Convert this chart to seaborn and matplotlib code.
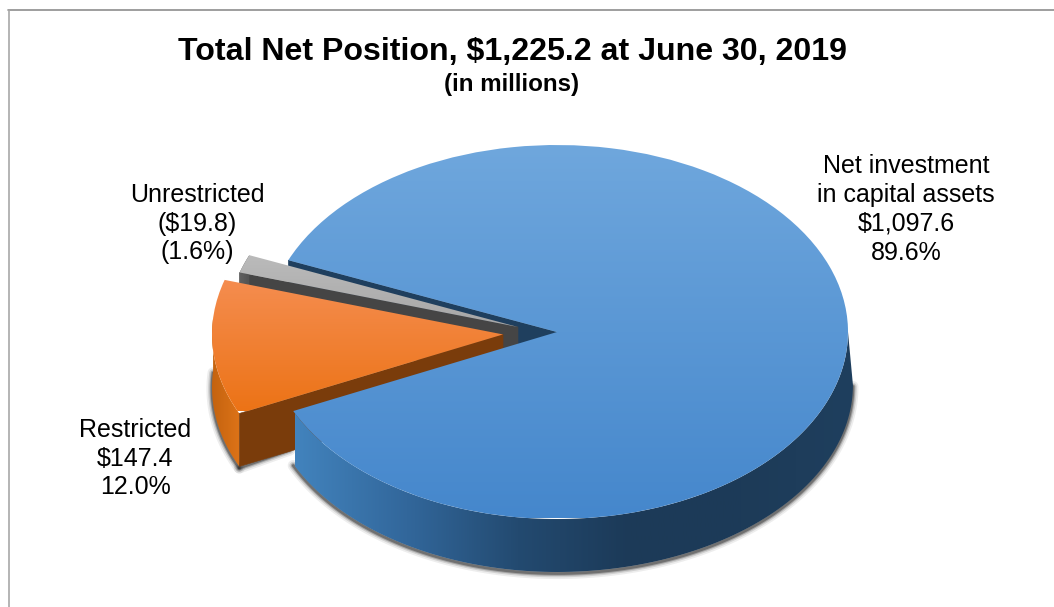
# Goal: 3D looking pie of total net position at June 30, 2019

import numpy as np
import seaborn as sns
import matplotlib
matplotlib.use("Agg")
import matplotlib.pyplot as plt
from matplotlib.lines import Line2D
from matplotlib.patches import Polygon

# Data (in millions)
categories = ["Net investment\nin capital assets", "Unrestricted", "Restricted"]
amounts = [1097.6, 19.8, 147.4]
amount_labels = ["\\$1,097.6", "(\\$19.8)", "\\$147.4"]
share_labels = ["89.6%", "(1.6%)", "12.0%"]

title = "Total Net Position, \\$1,225.2 at June 30, 2019"
subtitle = "(in millions)"

# Layout, in pixels of the 1054x607 picture
W, H = 1054, 607
CX, CY = 557, 332
RX, RY = 291, 187
DEPTH = 53 / RY
explode = [0, 0.12, 0.186]
label_pos = [(906, 209.5), (197, 223.5), (135, 458.5)]


def fx(px):
    return (px - CX) / RX


def fy(py):
    return (CY - py) / RY


def rim(wedge, a, b, n=120):
    t = np.radians(np.linspace(a, b, n))
    cx, cy = wedge.center
    return np.column_stack([cx + wedge.r * np.cos(t), cy + wedge.r * np.sin(t)])


def lower(points, bulge=0.0):
    # bottom edge of a wall, the right side spreads out a little
    low = points - [0, DEPTH]
    low[:, 0] = low[:, 0] + bulge * np.clip(low[:, 0], 0, None)
    return low


def extrude(points, bulge=0.0):
    return np.vstack([points, lower(points, bulge)[::-1]])


def cut_edge(wedge, angle):
    t = np.radians(angle)
    cx, cy = wedge.center
    return np.array([[cx, cy], [cx + wedge.r * np.cos(t), cy + wedge.r * np.sin(t)]])


def gradient(ax, patch, colors, px_from, px_to, vertical, z):
    # gradient image cut to the shape of the patch
    cmap = sns.blend_palette(colors, as_cmap=True)
    ramp = np.linspace(0, 1, 256)
    if vertical:
        img = ramp.reshape(-1, 1)[::-1]
        extent = (-3, 3, fy(px_to), fy(px_from))
    else:
        img = ramp.reshape(1, -1)
        extent = (fx(px_from), fx(px_to), -3, 3)
    im = ax.imshow(img, cmap=cmap, extent=extent, origin="lower", aspect="auto", zorder=z,
                   interpolation="bilinear")
    ax.add_patch(patch)
    patch.set(facecolor="none", edgecolor="none", zorder=z)
    im.set_clip_path(patch)


def flat(ax, points, color, z):
    ax.add_patch(Polygon(points, closed=True, facecolor=color, edgecolor=color, lw=0.4, zorder=z))


def shadow(ax, points):
    # soft dark line under the bottom edge of a wall
    low = points - [0, 1.5 / RY]
    for lw, alpha in [(8, 0.08), (5.5, 0.14), (3.5, 0.25), (2, 0.4)]:
        ax.plot(low[:, 0], low[:, 1], color="#222222", lw=lw, alpha=alpha, zorder=1,
                solid_capstyle="round", solid_joinstyle="round")


def main():
    sns.set_theme(style="white")
    plt.rcParams["font.family"] = ["Liberation Sans", "DejaVu Sans"]

    fig = plt.figure(figsize=(W / 100, H / 100), dpi=100, facecolor="white")
    ax = fig.add_axes([0, 0, 1, 1])

    wedges, _ = ax.pie(amounts, explode=explode, startangle=205, counterclock=True, radius=1)
    blue, gray, orange = wedges
    gray.set_center((fx(518), fy(327)))

    # back walls and shadows first
    blue_rim = rim(blue, blue.theta1, 360)
    orange_rim = rim(orange, orange.theta1 + 12, orange.theta2)
    orange_cut = cut_edge(orange, orange.theta2)
    corner = lower(orange_cut)[1]
    shadow(ax, lower(orange_rim))
    shadow(ax, np.vstack([corner, [fx(290), corner[1] + 18 / RY]]))
    shadow(ax, lower(blue_rim, 0.017))

    flat(ax, extrude(cut_edge(blue, blue.theta2)), "#1f3f5e", 2)
    flat(ax, extrude(cut_edge(gray, gray.theta2)), "#454545", 3)
    gradient(ax, Polygon(extrude(rim(gray, gray.theta1, gray.theta2))), ["#666666", "#4a4a4a"], 235, 255, False, 3)

    gradient(ax, Polygon(extrude(orange_rim)), ["#c4630f", "#dd7318"], 212, 240, False, 4)
    flat(ax, extrude(orange_cut), "#7a3c0b", 5)

    gradient(ax, gray, ["#bcbcbc", "#a6a6a6"], 250, 330, True, 6)
    gradient(ax, orange, ["#f58d50", "#ec7316"], 278, 411, True, 7)

    # blue sits in front of the orange wall
    gradient(ax, Polygon(extrude(blue_rim, 0.017)),
             ["#4283bd", "#32679b", "#234a70", "#1c3a58", "#1d3b58", "#1f3f5e"], 295, 853, False, 8)
    gradient(ax, blue, ["#6fa7dd", "#4587cc"], 145, 518, True, 9)

    ax.set_aspect("auto")
    ax.set_xlim(fx(0), fx(W))
    ax.set_ylim(fy(H), fy(0))
    ax.set_axis_off()

    # chart frame, open on the right and bottom
    fig.add_artist(Line2D([8 / W, 1], [1 - 9.5 / H, 1 - 9.5 / H], color="#8e8e8e", lw=1.2))
    fig.add_artist(Line2D([8.5 / W, 8.5 / W], [0, 1 - 9.5 / H], color="#a8a8a8", lw=1.2))

    fig.text(512 / W, 1 - 52 / H, title, ha="center", va="center", fontsize=23.1,
             fontweight="bold", color="black")
    fig.text(512 / W, 1 - 84 / H, subtitle, ha="center", va="center", fontsize=17.4,
             fontweight="bold", color="black")

    for name, amount, share, (x, y) in zip(categories, amount_labels, share_labels, label_pos):
        fig.text(x / W, 1 - y / H, f"{name}\n{amount}\n{share}", ha="center", va="center",
                 fontsize=18, linespacing=1.26, color="black")

    fig.savefig("out.png", dpi=100)


main()
